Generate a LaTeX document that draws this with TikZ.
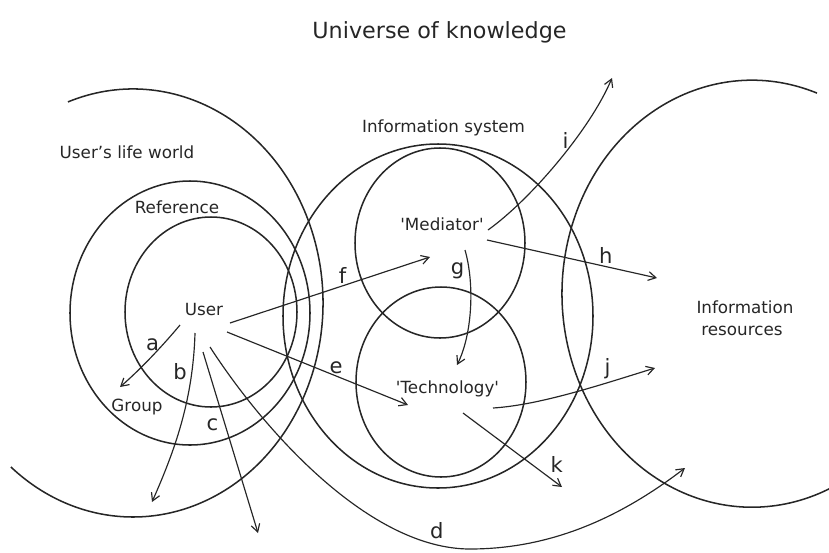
\documentclass[tikz,border=0pt]{standalone}
\usepackage{fontspec}
\setmainfont{DejaVu Sans}
\usetikzlibrary{arrows.meta}
\definecolor{ink}{HTML}{262626}
\begin{document}
\begin{tikzpicture}[x=0.03cm,y=-0.03cm,
  ring/.style={draw=ink, line width=1.3pt},
  flow/.style={draw=ink, line width=1pt, -{Straight Barb[length=6.5pt,width=7.5pt,line width=1pt]}},
  lbl/.style={font=\fontsize{14.3}{17}\selectfont, text=ink, inner sep=0pt, anchor=base},
  letr/.style={font=\fontsize{18}{21}\selectfont, text=ink, inner sep=0pt, anchor=base},
  ttl/.style={font=\fontsize{19}{23}\selectfont, text=ink, inner sep=0pt, anchor=base}]
\useasboundingbox (0,0) rectangle (829,552);

% rings
\draw[ring] (68,101.9) arc[start angle=-110, end angle=130, x radius=190, y radius=214];
\draw[ring] (817,93.1) arc[start angle=-70, end angle=-296, x radius=190, y radius=213.5];
\draw[ring] (438,316) ellipse [x radius=155, y radius=172];
\draw[ring] (190,313) ellipse [x radius=120, y radius=132];
\draw[ring] (211,312) ellipse [x radius=86, y radius=95];
\draw[ring] (440,243) ellipse [x radius=85, y radius=95];
\draw[ring] (441,382) ellipse [x radius=85, y radius=95];

% text
\node[ttl] (title) at (439.5,38) {Universe of knowledge};
\node[lbl] (life) at (127,158) {User’s life world};
\node[lbl] (infosys) at (443.5,132) {Information system};
\node[lbl] (ref) at (177,213) {Reference};
\node[lbl] (user) at (204,315) {User};
\node[lbl] (group) at (137,411) {Group};
\node[lbl] (med) at (442,230) {\textquotesingle Mediator\textquotesingle};
\node[lbl] (tech) at (447.5,393) {\textquotesingle Technology\textquotesingle};
\node[lbl] (res1) at (745,313) {Information};
\node[lbl] (res2) at (742,335) {resources};

\node[letr] (la) at (152.5,350) {a};
\node[letr] (lb) at (180,379) {b};
\node[letr] (lc) at (212.5,430) {c};
\node[letr] (ld) at (436.7,538) {d};
\node[letr] (le) at (336,373) {e};
\node[letr] (lf) at (342.5,283) {f};
\node[letr] (lg) at (457.5,274) {g};
\node[letr] (lh) at (605.8,263) {h};
\node[letr] (li) at (565.5,148.5) {i};
\node[letr] (lj) at (607.5,374) {j};
\node[letr] (lk) at (556.7,472) {k};

% connector ends
\coordinate (aS) at (180,325); \coordinate (aE) at (120,387);
\coordinate (bS) at (195,333); \coordinate (bE) at (152,502);
\coordinate (cS) at (203,352); \coordinate (cE) at (258,533);
\coordinate (dS) at (210,347); \coordinate (dM) at (470,549); \coordinate (dE) at (685,468);
\coordinate (eS) at (227,332); \coordinate (eE) at (408,405);
\coordinate (fS) at (230,323); \coordinate (fE) at (430,257);
\coordinate (gS) at (465,250); \coordinate (gE) at (457,365);
\coordinate (hS) at (487,240); \coordinate (hE) at (657,278);
\coordinate (iS) at (488,230); \coordinate (iE) at (612,78);
\coordinate (jS) at (493,408); \coordinate (jE) at (655,368);
\coordinate (kS) at (463,413); \coordinate (kE) at (562,487);

% connectors
\draw[flow] (aS) .. controls (165,343) and (142,368) .. (aE);
\draw[flow] (bS) .. controls (193,400) and (175,450) .. (bE);
\draw[flow] (cS) -- (cE);
\draw[flow] (dS) .. controls (265,432) and (370,549) .. (dM)
                 .. controls (560,549) and (630,510) .. (dE);
\draw[flow] (eS) -- (eE);
\draw[flow] (fS) -- (fE);
\draw[flow] (gS) .. controls (475,285) and (472,335) .. (gE);
\draw[flow] (hS) -- (hE);
\draw[flow] (iS) .. controls (530,200) and (590,130) .. (iE);
\draw[flow] (jS) .. controls (540,405) and (600,385) .. (jE);
\draw[flow] (kS) -- (kE);
\end{tikzpicture}
\end{document}
